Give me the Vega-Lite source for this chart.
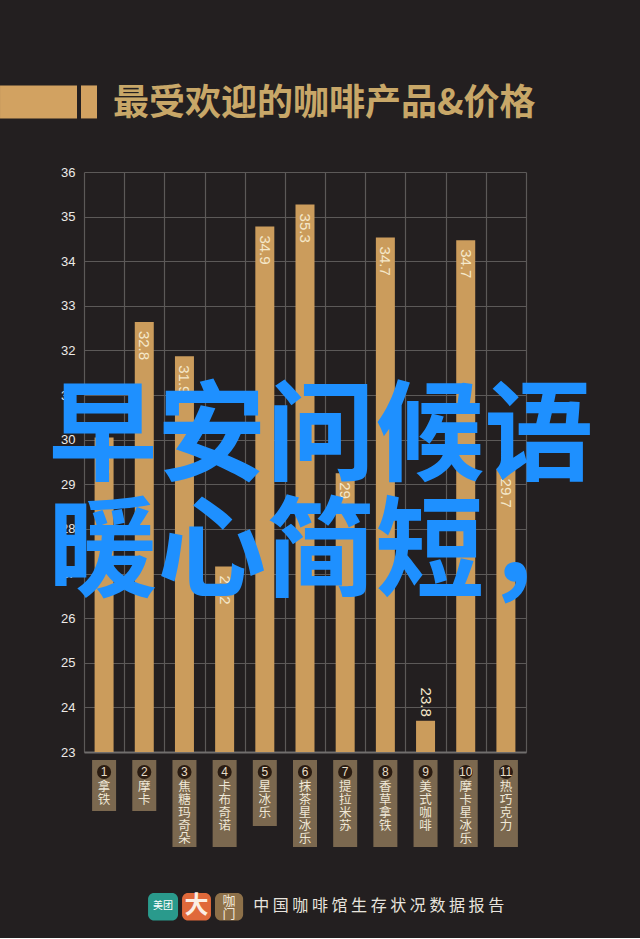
{
  "$schema": "https://vega.github.io/schema/vega-lite/v6.json",
  "background": "#231f20",
  "padding": {"left": 0, "top": 85, "right": 46, "bottom": 0},
  "spacing": 1,
  "datasets": {
    "coffee": [
      {"id": 1, "name": "拿\n铁", "chars": 2, "value": 30.05, "label": "30.3"},
      {"id": 2, "name": "摩\n卡", "chars": 2, "value": 32.64, "label": "32.8"},
      {"id": 3, "name": "焦\n糖\n玛\n奇\n朵", "chars": 5, "value": 31.87, "label": "31.9"},
      {"id": 4, "name": "卡\n布\n奇\n诺", "chars": 4, "value": 27.16, "label": "27.2"},
      {"id": 5, "name": "星\n冰\n乐", "chars": 3, "value": 34.78, "label": "34.9"},
      {"id": 6, "name": "抹\n茶\n星\n冰\n乐", "chars": 5, "value": 35.27, "label": "35.3"},
      {"id": 7, "name": "提\n拉\n米\n苏", "chars": 4, "value": 29.25, "label": "29.6"},
      {"id": 8, "name": "香\n草\n拿\n铁", "chars": 4, "value": 34.53, "label": "34.7"},
      {"id": 9, "name": "美\n式\n咖\n啡", "chars": 4, "value": 23.7, "label": "23.8"},
      {"id": 10, "name": "摩\n卡\n星\n冰\n乐", "chars": 5, "value": 34.47, "label": "34.7"},
      {"id": 11, "name": "热\n巧\n克\n力", "chars": 4, "value": 29.33, "label": "29.7"}
    ]
  },
  "vconcat": [
    {
      "width": 442,
      "height": 580,
      "data": {"name": "coffee"},
      "view": {"stroke": null},
      "encoding": {
        "x": {
          "field": "id",
          "type": "quantitative",
          "scale": {"domain": [0.5, 11.5], "nice": false, "zero": false, "padding": 0},
          "axis": {
            "values": [0.5, 1.5, 2.5, 3.5, 4.5, 5.5, 6.5, 7.5, 8.5, 9.5, 10.5, 11.5],
            "title": null, "labels": false, "ticks": false,
            "grid": true, "gridColor": "#5c5958", "gridWidth": 1.2,
            "domain": true, "domainColor": "#716e6d", "domainWidth": 2
          }
        },
        "y": {
          "field": "value",
          "type": "quantitative",
          "scale": {"domain": [23, 36], "nice": false, "zero": false},
          "axis": {
            "values": [23, 24, 25, 26, 27, 28, 29, 30, 31, 32, 33, 34, 35, 36],
            "title": null, "ticks": false, "domain": false,
            "grid": true, "gridColor": "#5c5958", "gridWidth": 1.2,
            "labelColor": "#eceae7", "labelFont": "Liberation Sans",
            "labelFontSize": 13, "labelPadding": 9
          }
        }
      },
      "layer": [
        {
          "mark": {"type": "bar", "size": 19, "color": "#cb9c5c", "orient": "vertical"},
          "encoding": {"y2": {"datum": 23}}
        },
        {
          "transform": [{"filter": "datum.id != 9"}],
          "mark": {"type": "text", "angle": 90, "align": "left", "baseline": "middle", "dx": 9, "font": "Liberation Sans", "fontSize": 15, "color": "#f5e8ca"},
          "encoding": {"text": {"field": "label"}}
        },
        {
          "transform": [{"filter": "datum.id == 9"}],
          "mark": {"type": "text", "angle": 90, "align": "right", "baseline": "middle", "dx": -4, "font": "Liberation Sans", "fontSize": 15, "color": "#f5e8ca"},
          "encoding": {"text": {"field": "label"}}
        },
        {
          "transform": [{"filter": "datum.id == 1"}],
          "mark": {"type": "rect", "color": "#d2a261"},
          "encoding": {
            "x": {"datum": -1.59},
            "x2": {"datum": 0.326},
            "y": {"datum": 37.94},
            "y2": {"datum": 37.2}
          }
        },
        {
          "transform": [{"filter": "datum.id == 1"}],
          "mark": {"type": "rect", "color": "#d2a261"},
          "encoding": {
            "x": {"datum": 0.425},
            "x2": {"datum": 0.824},
            "y": {"datum": 37.94},
            "y2": {"datum": 37.2}
          }
        },
        {
          "transform": [{"filter": "datum.id == 1"}],
          "mark": {"type": "text", "align": "left", "baseline": "middle", "font": "Noto Sans CJK SC", "fontWeight": "bold", "fontSize": 36, "color": "#c8a768"},
          "encoding": {
            "x": {"datum": 1.22},
            "y": {"datum": 37.52},
            "text": {"value": "最受欢迎的咖啡产品&价格"}
          }
        },
        {
          "transform": [{"filter": "datum.id == 1"}],
          "mark": {"type": "text", "align": "left", "baseline": "middle", "lineBreak": "\n", "lineHeight": 116, "font": "Noto Sans CJK SC", "fontWeight": "bold", "fontSize": 109, "color": "#1e90ff"},
          "encoding": {
            "x": {"datum": -0.39},
            "y": {"datum": 30.02},
            "text": {"value": "早安问候语\n暖心简短，"}
          }
        }
      ]
    },
    {
      "width": 442,
      "height": 178,
      "data": {"name": "coffee"},
      "view": {"stroke": null},
      "encoding": {
        "x": {
          "field": "id",
          "type": "quantitative",
          "scale": {"domain": [0.5, 11.5], "nice": false, "zero": false, "padding": 0},
          "axis": null
        }
      },
      "layer": [
        {
          "mark": {"type": "bar", "size": 24, "color": "#7b684f", "orient": "vertical"},
          "encoding": {
            "y": {
              "field": "chars",
              "type": "quantitative",
              "scale": {"domain": [0, 2, 3, 4, 5, 6, 7], "range": [0, 51, 66, 87, 87, 146, 178]},
              "axis": null
            },
            "y2": {"datum": 0}
          }
        },
        {
          "mark": {"type": "point", "shape": "circle", "filled": true, "size": 200, "opacity": 1, "color": "#2a1c12"},
          "encoding": {"y": {"datum": 0.47}}
        },
        {
          "mark": {"type": "text", "font": "Liberation Sans", "fontSize": 12, "color": "#e6dcc8"},
          "encoding": {"y": {"datum": 0.47}, "text": {"field": "id"}}
        },
        {
          "mark": {"type": "text", "baseline": "top", "lineBreak": "\n", "lineHeight": 13, "font": "Noto Sans CJK SC", "fontSize": 12.5, "color": "#efe7d6"},
          "encoding": {"y": {"datum": 0.83}, "text": {"field": "name"}}
        },
        {
          "transform": [{"filter": "datum.id == 1"}],
          "mark": {"type": "rect", "color": "#2a9a8c", "cornerRadius": 6},
          "encoding": {
            "x": {"datum": 2.094}, "x2": {"datum": 2.84},
            "y": {"datum": 5.78}, "y2": {"datum": 6.45}
          }
        },
        {
          "transform": [{"filter": "datum.id == 1"}],
          "mark": {"type": "text", "font": "Noto Sans CJK SC", "fontSize": 10, "color": "#ffffff"},
          "encoding": {"x": {"datum": 2.467}, "y": {"datum": 6}, "text": {"value": "美团"}}
        },
        {
          "transform": [{"filter": "datum.id == 1"}],
          "mark": {"type": "rect", "color": "#e0693a", "cornerRadius": 6},
          "encoding": {
            "x": {"datum": 2.94}, "x2": {"datum": 3.66},
            "y": {"datum": 5.78}, "y2": {"datum": 6.45}
          }
        },
        {
          "transform": [{"filter": "datum.id == 1"}],
          "mark": {"type": "text", "font": "Noto Sans CJK SC", "fontWeight": "bold", "fontSize": 24, "color": "#fbeee4"},
          "encoding": {"x": {"datum": 3.3}, "y": {"datum": 6}, "text": {"value": "大"}}
        },
        {
          "transform": [{"filter": "datum.id == 1"}],
          "mark": {"type": "rect", "color": "#8d7049", "cornerRadius": 6},
          "encoding": {
            "x": {"datum": 3.76}, "x2": {"datum": 4.46},
            "y": {"datum": 5.78}, "y2": {"datum": 6.45}
          }
        },
        {
          "transform": [{"filter": "datum.id == 1"}],
          "mark": {"type": "text", "lineBreak": "\n", "lineHeight": 13, "font": "Noto Sans CJK SC", "fontSize": 13, "color": "#f3e9d8"},
          "encoding": {"x": {"datum": 4.11}, "y": {"datum": 5.92}, "text": {"value": "咖\n门"}}
        },
        {
          "transform": [{"filter": "datum.id == 1"}],
          "mark": {"type": "text", "align": "left", "font": "Noto Sans CJK SC", "fontSize": 16, "color": "#e8e4de"},
          "encoding": {"x": {"datum": 4.71}, "y": {"datum": 6}, "text": {"value": "中 国 咖 啡 馆 生 存 状 况 数 据 报 告"}}
        }
      ]
    }
  ]
}
